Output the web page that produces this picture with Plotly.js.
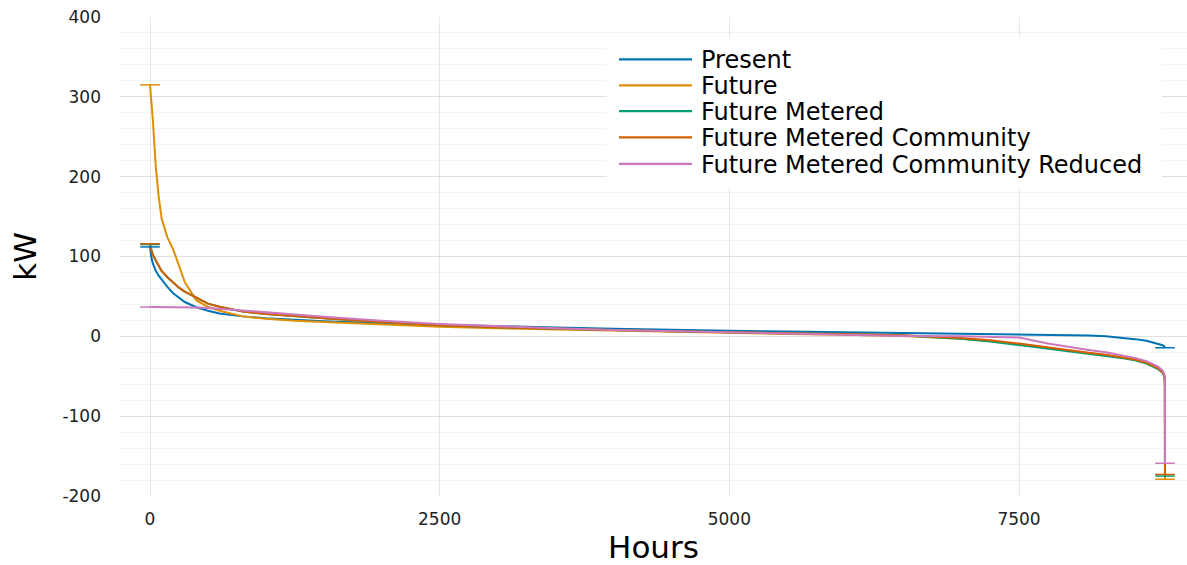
<!DOCTYPE html>
<html>
<head>
<meta charset="utf-8">
<script src="https://cdn.plot.ly/plotly-3.0.1.min.js"></script>
<style>html,body{margin:0;padding:0;background:#fff;}#chart{width:1187px;height:565px;}</style>
</head>
<body>
<div id="chart"></div>
<script>
// ---- data ----
const hours = [0, 10, 25, 50, 75, 100, 150, 200, 250, 300, 400, 500, 600, 800, 1000, 1250, 1500, 2000, 2500, 3000, 3500, 4000, 4500, 5000, 5500, 6000, 6500, 7000, 7250, 7500, 7750, 8000, 8100, 8250, 8400, 8500, 8600, 8700, 8740, 8755, 8759, 8760];
const present = [112, 100, 91, 82, 76, 71, 62, 54, 48, 43, 36.5, 32, 28.5, 25, 22.5, 20.5, 19, 16.5, 14.5, 12.5, 11, 9.5, 8, 7, 6, 5, 4, 3.2, 2.9, 2.6, 2.2, 1.6, 1.1, 0, -1.9, -3.5, -5.6, -9.0, -11.2, -12.8, -13.8, -14.3];
const future = [315, 300, 270, 212, 175, 148, 124, 109, 88, 68, 45, 37, 32, 25, 22, 19.5, 18, 15, 12, 10, 8.5, 7, 5.5, 4, 3, 2, 0.5, -3, -6, -10, -14.5, -19, -20.5, -23, -26.5, -29, -32.5, -39, -44, -49, -58, -179];
const futureMetered = [115, 108, 102, 95, 88, 82, 74, 67, 61, 56, 48, 41, 37, 31, 28, 25, 22.5, 18, 14, 11.5, 9.5, 8, 6.5, 5, 4, 3, 1, -3, -6.5, -11, -15.5, -20, -21.5, -24, -27.5, -30, -34, -41, -46, -51, -60, -175];
const futureMeteredCommunity = [116, 108, 102, 95, 88, 82, 74, 67, 61, 56, 48, 41, 37, 31, 28, 25, 22.5, 18, 14, 11.5, 9.5, 8, 6.5, 5, 4, 3, 1.5, -2, -5, -9, -14, -19, -20.5, -23, -26.5, -29, -33, -40, -45, -50, -59, -173];
const futureMeteredCommunityReduced = [36.6, 36.6, 36.5, 36.5, 36.5, 36.4, 36.4, 36.3, 36.3, 36.2, 36, 35.5, 34.5, 32.5, 30.5, 27.5, 24.5, 19.5, 15.5, 12.5, 10, 8, 6.5, 5, 4, 2.5, 0.5, 0, -0.5, -1.5, -9, -15, -17, -20, -24, -27, -31, -38, -43, -48, -57, -159];
const seriesNames = ["Present", "Future", "Future Metered", "Future Metered Community", "Future Metered Community Reduced"];
const xTickVals = [0, 2500, 5000, 7500];
const xTickText = ["0", "2500", "5000", "7500"];
const yTickVals = [-200, -100, 0, 100, 200, 300, 400];
const yTickText = ["-200", "-100", "0", "100", "200", "300", "400"];

// ---- styling ----
const colors = ["#0173B2", "#DE8F05", "#029E73", "#D55E00", "#CC78BC"];
const seriesValues = [present, future, futureMetered, futureMeteredCommunity, futureMeteredCommunityReduced];
const FONT = "DejaVu Sans, Liberation Sans, sans-serif";

const traces = [];
seriesValues.forEach((vals, i) => {
  traces.push({
    x: hours, y: vals, type: "scatter", mode: "lines", name: seriesNames[i],
    line: {color: colors[i], width: 2}, showlegend: false, hoverinfo: "skip"
  });
});
// end caps at first and last points of every series
seriesValues.forEach((vals, i) => {
  traces.push({
    x: [hours[0], hours[hours.length - 1]], y: [vals[0], vals[vals.length - 1]],
    type: "scatter", mode: "markers", showlegend: false, hoverinfo: "skip",
    marker: {symbol: "line-ew", size: 14, color: colors[i], line: {color: colors[i], width: 1.5}}
  });
});

// plot area in pixels
const PL = 120, PR = 1187, PT = 17, PB = 496;
const px = v => (v - PL) / (PR - PL);
const py = v => (PB - v) / (PB - PT);

const shapes = [{
  type: "rect", xref: "paper", yref: "paper", layer: "above",
  x0: px(607), x1: px(1162), y0: py(188), y1: py(38),
  fillcolor: "#ffffff", line: {width: 0}
}];
const annotations = [];
const rowY = [59.3, 85.3, 111.2, 137.4, 163.8];
seriesNames.forEach((n, i) => {
  shapes.push({
    type: "line", xref: "paper", yref: "paper", layer: "above",
    x0: px(619), x1: px(692), y0: py(rowY[i]), y1: py(rowY[i]),
    line: {color: colors[i], width: 2.2}
  });
  annotations.push({
    xref: "paper", yref: "paper", x: px(699), y: py(rowY[i] + 1),
    xanchor: "left", yanchor: "middle", showarrow: false, text: n,
    font: {family: FONT, size: 24, color: "#000"}
  });
});

const layout = {
  width: 1187, height: 565,
  margin: {l: PL, r: 1187 - PR, t: PT, b: 565 - PB, pad: 0},
  paper_bgcolor: "#fff", plot_bgcolor: "#fff",
  showlegend: false,
  font: {family: FONT, color: "#222"},
  xaxis: {
    range: [-259, 8950], tickmode: "array", tickvals: xTickVals, ticktext: xTickText,
    showgrid: true, gridcolor: "rgba(0,0,0,0.085)", gridwidth: 1,
    zeroline: false, showline: false, ticks: "", ticklabelstandoff: 11,
    tickfont: {family: FONT, size: 17, color: "#222"},
    title: {text: "Hours", font: {family: FONT, size: 31, color: "#000"}, standoff: 13},
    automargin: false, fixedrange: true
  },
  yaxis: {
    range: [-200, 400], tickmode: "array", tickvals: yTickVals, ticktext: yTickText,
    showgrid: true, gridcolor: "rgba(0,0,0,0.085)", gridwidth: 1,
    minor: {dtick: 20, tick0: 0, showgrid: true, gridcolor: "rgba(0,0,0,0.04)", gridwidth: 1, ticks: ""},
    zeroline: false, showline: false, ticks: "", ticklabelstandoff: 18,
    tickfont: {family: FONT, size: 17, color: "#222"},
    title: {text: "kW", font: {family: FONT, size: 31, color: "#000"}, standoff: 16},
    automargin: false, fixedrange: true
  },
  shapes: shapes,
  annotations: annotations
};

Plotly.newPlot("chart", traces, layout, {displayModeBar: false, staticPlot: true});
</script>
</body>
</html>
